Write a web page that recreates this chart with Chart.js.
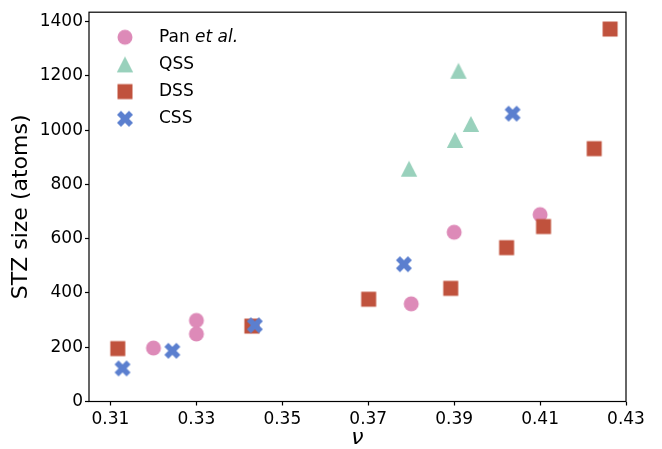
<!DOCTYPE html>
<html>
<head>
<meta charset="utf-8">
<script src="https://cdn.jsdelivr.net/npm/chart.js@4/dist/chart.umd.min.js"></script>
<style>
  html, body { margin: 0; padding: 0; background: #ffffff; }
  canvas { display: block; }
</style>
</head>
<body>
<canvas id="chart" width="662" height="449"></canvas>
<script>
// Poisson's ratio (nu) vs. STZ size, per data source
const panNu   = [0.320, 0.330, 0.330, 0.380, 0.390, 0.410];
const panSize = [197, 299, 249, 360, 624, 689];

const qssNu   = [0.3795, 0.3902, 0.3910, 0.3939];
const qssSize = [858, 964, 1219, 1023];

const dssNu   = [0.3117, 0.3429, 0.3701, 0.3892, 0.4022, 0.4108, 0.4226, 0.4263];
const dssSize = [195, 278, 377, 417, 567, 645, 932, 1373];

const cssNu   = [0.3128, 0.3244, 0.3436, 0.3783, 0.4036];
const cssSize = [122, 187, 281, 506, 1061];

const seriesLabels = ['Pan et al.', 'QSS', 'DSS', 'CSS'];
const xTicks = [0.31, 0.33, 0.35, 0.37, 0.39, 0.41, 0.43];
const yTicks = [0, 200, 400, 600, 800, 1000, 1200, 1400];

const FONT = "'DejaVu Sans', sans-serif";

function toPoints(xs, ys) {
  return xs.map((x, i) => ({ x: x, y: ys[i] }));
}

// Filled marker sprites used as point styles
function marker(kind, color) {
  const c = document.createElement('canvas');
  c.width = 18; c.height = 18;
  const g = c.getContext('2d');
  g.fillStyle = color;
  g.translate(9, 9);
  g.beginPath();
  if (kind === 'circle') {
    g.arc(0, 0, 7.5, 0, Math.PI * 2);
  } else if (kind === 'square') {
    g.rect(-7.5, -7.5, 15, 15);
  } else if (kind === 'triangle') {
    g.moveTo(0, -8); g.lineTo(-8.2, 8); g.lineTo(8.2, 8);
  } else if (kind === 'x') {
    const v = [[-1,-2],[0,-1],[1,-2],[2,-1],[1,0],[2,1],[1,2],[0,1],[-1,2],[-2,1],[-1,0],[-2,-1]];
    v.forEach((p, i) => {
      const px = p[0] * 4, py = p[1] * 4;
      if (i === 0) g.moveTo(px, py); else g.lineTo(px, py);
    });
  }
  g.closePath();
  g.fill();
  return c;
}

const colors = ['#dd8ab8', '#99d1bc', '#c0523d', '#5b7fcf'];
const kinds = ['circle', 'triangle', 'square', 'x'];
const sprites = kinds.map((k, i) => marker(k, colors[i]));

const seriesData = [
  toPoints(panNu, panSize),
  toPoints(qssNu, qssSize),
  toPoints(dssNu, dssSize),
  toPoints(cssNu, cssSize)
];

const datasets = seriesData.map((d, i) => ({
  label: seriesLabels[i],
  data: d,
  pointStyle: sprites[i],
  pointRadius: 8,
  pointHoverRadius: 8,
  backgroundColor: colors[i],
  borderColor: colors[i],
  order: 3 - i
}));

// Frame around the plotting area
const framePlugin = {
  id: 'frame',
  afterDraw(chart) {
    const a = chart.chartArea;
    const ctx = chart.ctx;
    ctx.save();
    ctx.strokeStyle = '#000';
    ctx.lineWidth = 1.2;
    ctx.strokeRect(a.left, a.top, a.right - a.left, a.bottom - a.top);
    ctx.restore();
  }
};

// Legend inside the upper-left corner of the plot
const legendPlugin = {
  id: 'innerLegend',
  afterDraw(chart) {
    const ctx = chart.ctx;
    const a = chart.chartArea;
    const mx = a.left + 36, tx = a.left + 70;
    const y0 = a.top + 25, dy = 27.2;
    ctx.save();
    ctx.fillStyle = '#000';
    ctx.textBaseline = 'middle';
    ctx.textAlign = 'left';
    seriesLabels.forEach((label, i) => {
      const y = y0 + dy * i;
      ctx.drawImage(sprites[i], mx - 9, y - 9);
      if (label === 'Pan et al.') {
        ctx.font = '17px ' + FONT;
        ctx.fillText('Pan ', tx, y);
        const w = ctx.measureText('Pan ').width;
        ctx.font = 'italic 17px ' + FONT;
        ctx.fillText('et al.', tx + w, y);
      } else {
        ctx.font = '17px ' + FONT;
        ctx.fillText(label, tx, y);
      }
    });
    ctx.restore();
  }
};

new Chart(document.getElementById('chart'), {
  type: 'scatter',
  data: { datasets: datasets },
  options: {
    responsive: false,
    animation: false,
    devicePixelRatio: 1,
    layout: { padding: { left: 0, top: 9, right: 36, bottom: 0 } },
    plugins: {
      legend: { display: false },
      tooltip: { enabled: false }
    },
    scales: {
      x: {
        type: 'linear',
        min: 0.305,
        max: 0.43,
        afterFit(scale) { scale.height = 47.5; },
        afterBuildTicks(scale) { scale.ticks = xTicks.map(v => ({ value: v })); },
        border: { display: false },
        grid: { drawOnChartArea: false, drawTicks: true, tickLength: 4, tickColor: '#000', tickWidth: 1.2 },
        ticks: {
          color: '#000',
          font: { family: FONT, size: 17 },
          padding: 4,
          maxRotation: 0,
          autoSkip: false,
          callback: v => v.toFixed(2)
        },
        title: {
          display: true,
          text: 'ν',
          color: '#000',
          font: { family: FONT, size: 22, style: 'italic', lineHeight: 1 },
          padding: { top: 0, bottom: 0 }
        }
      },
      y: {
        type: 'linear',
        min: 0,
        max: 1435,
        afterFit(scale) { scale.width = 89; },
        afterBuildTicks(scale) { scale.ticks = yTicks.map(v => ({ value: v })); },
        border: { display: false },
        grid: { drawOnChartArea: false, drawTicks: true, tickLength: 4, tickColor: '#000', tickWidth: 1.2 },
        ticks: {
          color: '#000',
          font: { family: FONT, size: 17 },
          padding: 2,
          autoSkip: false,
          callback: v => String(v)
        },
        title: {
          display: true,
          text: 'STZ size (atoms)',
          color: '#000',
          font: { family: FONT, size: 22, lineHeight: 1.2 },
          padding: { top: 8, bottom: 0 }
        }
      }
    }
  },
  plugins: [framePlugin, legendPlugin]
});
</script>
</body>
</html>
